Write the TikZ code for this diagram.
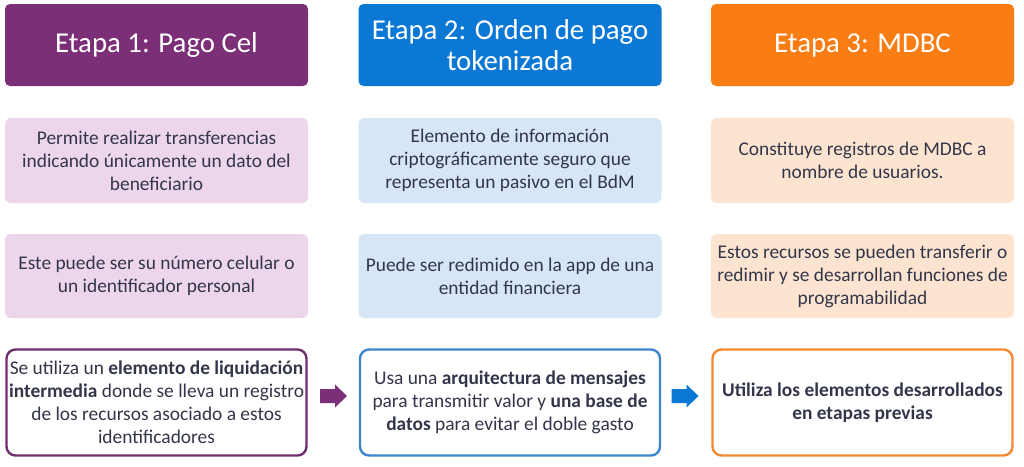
\documentclass[tikz,border=0pt]{standalone}
\usepackage{fontspec}
\setmainfont{Carlito}
\definecolor{cPur}{HTML}{7B2F77}
\definecolor{cBlu}{HTML}{0B78D6}
\definecolor{cOra}{HTML}{FA7D14}
\definecolor{lPur}{HTML}{EDD6EC}
\definecolor{lBlu}{HTML}{D7E6F7}
\definecolor{lOra}{HTML}{FDE4D0}
\definecolor{bPur}{HTML}{6F2E6C}
\definecolor{bBlu}{HTML}{3C85CC}
\definecolor{bOra}{HTML}{F28A32}
\definecolor{txt}{HTML}{33364A}
\tikzset{
  hdr/.style={rounded corners=5pt, minimum width=303pt, minimum height=82pt, inner sep=0pt, text=white,
    font=\fontsize{28.8}{31}\selectfont, align=center},
  info/.style={rounded corners=6pt, minimum width=303pt, inner sep=0pt, text=txt,
    font=\fontsize{19.4}{23}\selectfont, align=center},
  fin/.style={rounded corners=9pt, minimum width=300pt, minimum height=106pt, inner sep=0pt, text=txt,
    line width=2.4pt, fill=white, font=\fontsize{19.4}{23}\selectfont, align=center},
  blockarrow/.pic={\fill (-13.5,-7) -- (1.5,-7) -- (1.5,-11.5) -- (13.5,0) -- (1.5,11.5) -- (1.5,7) -- (-13.5,7) -- cycle;}
}
\begin{document}
\begin{tikzpicture}[x=1pt,y=-1pt]
\useasboundingbox[fill=white] (0,0) rectangle (1024,466);
% headers
\node[hdr, fill=cPur] (h1) at (156.5,45) {Etapa 1: Pago Cel};
\node[hdr, fill=cBlu] (h2) at (510,45) {Etapa 2: Orden de pago\\tokenizada};
\node[hdr, fill=cOra] (h3) at (862.5,45) {Etapa 3: MDBC};
% row 2
\node[info, fill=lPur, minimum height=85pt] (a1) at (156.5,160.5) {Permite realizar transferencias\\indicando únicamente un dato del\\beneficiario};
\node[info, fill=lBlu, minimum height=85pt] (a2) at (510,160.5) {Elemento de información\\criptográficamente seguro que\\representa un pasivo en el BdM};
\node[info, fill=lOra, minimum height=85pt] (a3) at (862.5,160.5) {Constituye registros de MDBC a\\nombre de usuarios.};
% row 3
\node[info, fill=lPur, minimum height=84pt] (b1) at (156.5,276) {Este puede ser su número celular o\\un identificador personal};
\node[info, fill=lBlu, minimum height=84pt] (b2) at (510,276) {Puede ser redimido en la app de una\\entidad financiera};
\node[info, fill=lOra, minimum height=84pt] (b3) at (862.5,276) {Estos recursos se pueden transferir o\\redimir y se desarrollan funciones de\\programabilidad};
% row 4
\node[fin, draw=bPur] (c1) at (156.5,402.5) {Se utiliza un \textbf{elemento de liquidación}\\\textbf{intermedia} donde se lleva un registro\\de los recursos asociado a estos\\identificadores};
\node[fin, draw=bBlu] (c2) at (510,402.5) {Usa una \textbf{arquitectura de mensajes}\\para transmitir valor y \textbf{una base de}\\\textbf{datos} para evitar el doble gasto};
\node[fin, draw=bOra] (c3) at (862.5,402.5) {\textbf{Utiliza los elementos desarrollados}\\\textbf{en etapas previas}};
% arrows
\coordinate (ar1) at (333.5,396);
\coordinate (ar2) at (685,396);
\pic[fill=cPur] at (ar1) {blockarrow};
\pic[fill=cBlu] at (ar2) {blockarrow};
\end{tikzpicture}
\end{document}
